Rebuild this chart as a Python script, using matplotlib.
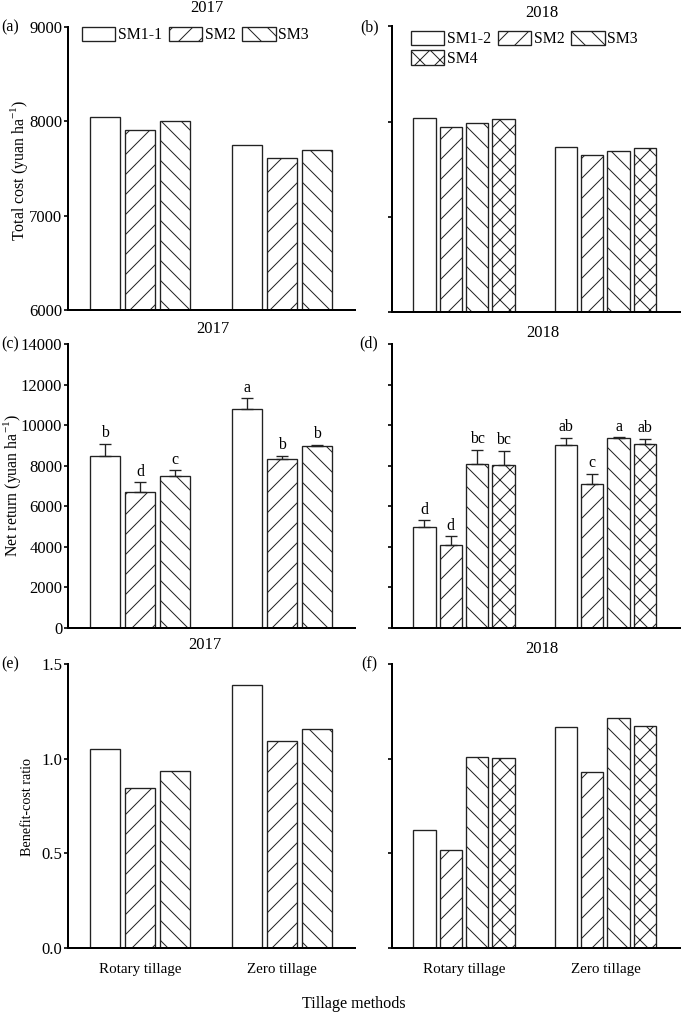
import numpy as np
import matplotlib
matplotlib.use('Agg')
import matplotlib.pyplot as plt
from matplotlib.ticker import FormatStrFormatter

plt.rcParams['font.family'] = ['Liberation Serif', 'DejaVu Serif']
plt.rcParams['font.size'] = 10
plt.rcParams['hatch.linewidth'] = 0.6
plt.rcParams['hatch.color'] = '#222222'

# Data (rows: Rotary tillage, Zero tillage)
groups = ['Rotary tillage', 'Zero tillage']
labels_2017 = ['SM1-1', 'SM2', 'SM3']
labels_2018 = ['SM1-2', 'SM2', 'SM3', 'SM4']
hatch_2017 = ['', '//', '\\\\']
hatch_2018 = ['', '//', '\\\\', 'xx']

cost_2017 = [[8042, 7908, 7997], [7743, 7609, 7697]]
cost_2018 = [[8035, 7944, 7989, 8025], [7737, 7649, 7695, 7723]]

net_2017 = [[8499, 6710, 7514], [10779, 8351, 8958]]
net_2017_err = [[574, 476, 263], [542, 131, 66]]
net_2017_let = [['b', 'd', 'c'], ['a', 'b', 'b']]

net_2018 = [[4992, 4086, 8105, 8040], [9044, 7117, 9374, 9077]]
net_2018_err = [[313, 428, 676, 691], [330, 478, 33, 248]]
net_2018_let = [['d', 'd', 'bc', 'bc'], ['ab', 'c', 'a', 'ab']]

bcr_2017 = [[1.051, 0.845, 0.935], [1.389, 1.092, 1.157]]
bcr_2018 = [[0.623, 0.517, 1.011, 1.002], [1.168, 0.932, 1.217, 1.175]]

W, H = 685, 1015
fig = plt.figure(figsize=(W / 120, H / 120), dpi=120)


def px_axes(left, top, right, bottom):
    return fig.add_axes([left / W, 1 - bottom / H, (right - left) / W, (bottom - top) / H])


def style(ax, show_labels):
    for s in ['top', 'right']:
        ax.spines[s].set_visible(False)
    for s in ['left', 'bottom']:
        ax.spines[s].set_linewidth(1.2)
    ax.tick_params(axis='y', direction='out', length=2.6, width=1.0, pad=0.8,
                   labelleft=show_labels, labelsize=10)
    ax.tick_params(axis='x', length=0, pad=9)
    ax.set_xticks([0, 1])
    ax.set_xticklabels([])


def draw_bars(ax, values, labels, hatches, width, step, errs=None, letters=None):
    n = len(labels)
    x = np.arange(len(groups))
    offs = (np.arange(n) - (n - 1) / 2) * step
    bars = []
    for i in range(n):
        vals = np.array([values[g][i] for g in range(len(groups))])
        b = ax.bar(x + offs[i], vals, width, facecolor='white', edgecolor='#222222',
                   linewidth=0.8, hatch=hatches[i], label=labels[i])
        bars.append(b)
        if errs is not None:
            e = np.array([errs[g][i] for g in range(len(groups))])
            ax.errorbar(x + offs[i], vals, yerr=[np.zeros_like(e), e], fmt='none',
                        ecolor='#222222', elinewidth=0.8, capsize=3.8, capthick=0.8)
            for g in range(len(groups)):
                ax.annotate(letters[g][i], (x[g] + offs[i], vals[g] + e[g]),
                            xytext=(0, 1.5), textcoords='offset points',
                            ha='center', va='bottom', fontsize=9.5)
    return bars


L = (68, 355)
R = (392, 680)
rows = [(26.5, 310), (344, 628), (664, 948)]

ax_a = px_axes(L[0], rows[0][0], L[1], rows[0][1])
ax_b = px_axes(R[0], rows[0][0], R[1], rows[0][1] + 2)
ax_c = px_axes(L[0], rows[1][0], L[1], rows[1][1])
ax_d = px_axes(R[0], rows[1][0], R[1], rows[1][1])
ax_e = px_axes(L[0], rows[2][0], L[1], rows[2][1])
ax_f = px_axes(R[0], rows[2][0], R[1], rows[2][1])

w3, s3 = 0.211, 0.2465
w4, s4 = 0.159, 0.187

bars_a = draw_bars(ax_a, cost_2017, labels_2017, hatch_2017, w3, s3)
bars_b = draw_bars(ax_b, cost_2018, labels_2018, hatch_2018, w4, s4)
draw_bars(ax_c, net_2017, labels_2017, hatch_2017, w3, s3, net_2017_err, net_2017_let)
draw_bars(ax_d, net_2018, labels_2018, hatch_2018, w4, s4, net_2018_err, net_2018_let)
draw_bars(ax_e, bcr_2017, labels_2017, hatch_2017, w3, s3)
draw_bars(ax_f, bcr_2018, labels_2018, hatch_2018, w4, s4)

for ax, left in [(ax_a, True), (ax_b, False), (ax_c, True), (ax_d, False), (ax_e, True), (ax_f, False)]:
    style(ax, left)
    if left:
        ax.set_xlim(-0.507, 1.514)
    else:
        ax.set_xlim(-0.509, 1.527)

for ax in (ax_a, ax_b):
    ax.set_ylim(6000, 9000)
    ax.set_yticks([6000, 7000, 8000, 9000])
for ax in (ax_c, ax_d):
    ax.set_ylim(0, 14000)
    ax.set_yticks(np.arange(0, 14001, 2000))
for ax in (ax_e, ax_f):
    ax.set_ylim(0, 1.5)
    ax.set_yticks([0, 0.5, 1.0, 1.5])
    ax.yaxis.set_major_formatter(FormatStrFormatter('%.1f'))
    ax.set_xticklabels(groups, fontsize=9)

# legends
leg_kw = dict(loc='upper left', ncol=3, frameon=False, borderpad=0, borderaxespad=0,
              handlelength=2.1, handleheight=1.0, handletextpad=0.15,
              columnspacing=0.45, labelspacing=0.2, fontsize=9.5)
ax_a.legend(bbox_to_anchor=(0.049, 1.0), **leg_kw)
# row-major order: SM1-2 SM2 SM3 / SM4
order = [0, 3, 1, 2]
ax_b.legend([bars_b[i] for i in order], [labels_2018[i] for i in order],
            bbox_to_anchor=(0.066, 0.985), **leg_kw)

# titles and panel labels
titles = [('2017', 207, 8), ('2018', 542, 13), ('2017', 213, 329),
          ('2018', 543, 333), ('2017', 205, 645), ('2018', 542, 649)]
for t, x, y in titles:
    fig.text(x / W, 1 - y / H, t, ha='center', va='center', fontsize=10)

panels = [('(a)', 10, 27), ('(b)', 370, 27), ('(c)', 10, 344),
          ('(d)', 369, 343), ('(e)', 10, 664), ('(f)', 369, 664)]
for t, x, y in panels:
    fig.text(x / W, 1 - y / H, t, ha='center', va='center', fontsize=9.5)

fig.text(19 / W, 1 - 170 / H, 'Total cost (yuan ha$^{\\mathregular{-1}}$)',
         rotation=90, ha='center', va='center', fontsize=9.5)
fig.text(12 / W, 1 - 486 / H, 'Net return (yuan ha$^{\\mathregular{-1}}$)',
         rotation=90, ha='center', va='center', fontsize=9.5)
fig.text(28 / W, 1 - 807 / H, 'Benefit-cost ratio',
         rotation=90, ha='center', va='center', fontsize=8.5)
fig.text(354 / W, 1 - 1004 / H, 'Tillage methods', ha='center', va='center', fontsize=9.7)

fig.savefig('out.png', dpi=120)
